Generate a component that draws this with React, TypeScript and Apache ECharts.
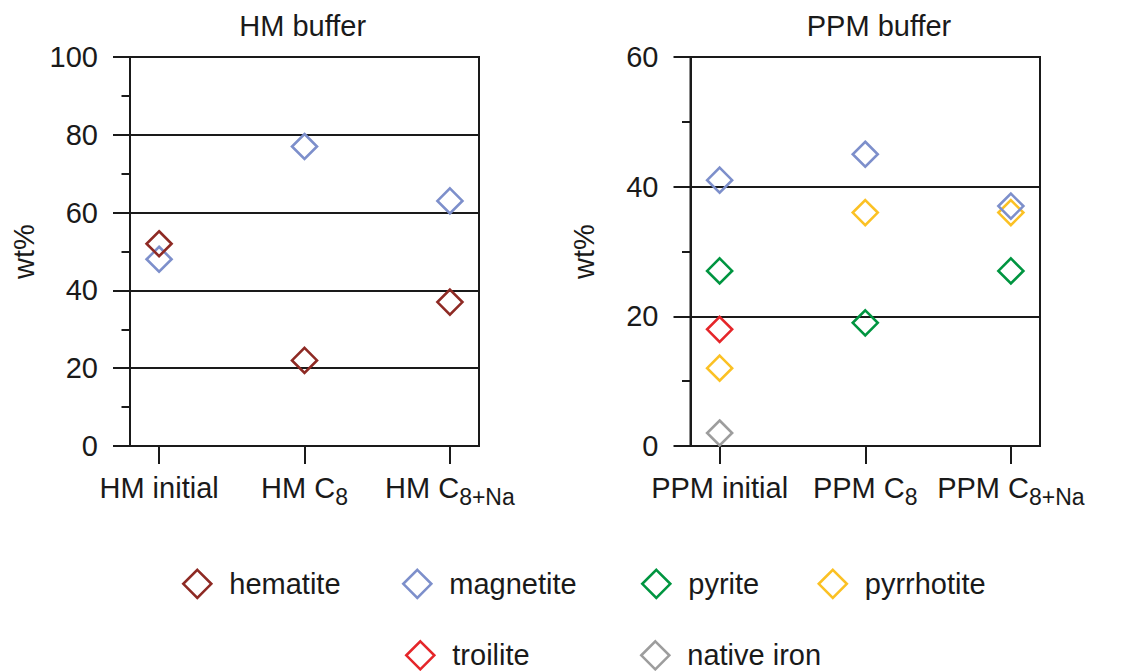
import React, { useEffect, useRef } from 'react';
import * as echarts from 'echarts';

// ---- Data ----
const hmLabelMain = ['HM initial', 'HM C', 'HM C'];
const hmLabelSub = ['', '8', '8+Na'];
const ppmLabelMain = ['PPM initial', 'PPM C', 'PPM C'];
const ppmLabelSub = ['', '8', '8+Na'];
const categoryIndex = [0, 1, 2];

const hmHematite = [52, 22, 37];
const hmMagnetite = [48, 77, 63];

const ppmMagnetite = [41, 45, 37];
const ppmPyrite = [27, 19, 27];
const ppmPyrrhotite = [12, 36, 36];
const ppmTroilite: (number | null)[] = [18, null, null];
const ppmNativeIron: (number | null)[] = [2, null, null];

const minerals = ['hematite', 'magnetite', 'pyrite', 'pyrrhotite', 'troilite', 'native iron'];
const mineralColors = ['#8E2A24', '#7D8FCB', '#009540', '#FBC124', '#E5262A', '#9D9D9D'];

const FONT = "'Liberation Sans', Arial, Helvetica, sans-serif";
const INK = '#1a1a1a';

function toPoints(values: (number | null)[]) {
  const out: number[][] = [];
  values.forEach((v, i) => {
    if (v !== null && v !== undefined) out.push([categoryIndex[i], v]);
  });
  return out;
}

function colorOf(name: string) {
  return mineralColors[minerals.indexOf(name)];
}

function makeSeries(name: string, values: (number | null)[], gridIdx: number) {
  const c = colorOf(name);
  return {
    type: 'scatter',
    name,
    xAxisIndex: gridIdx,
    yAxisIndex: gridIdx,
    symbol: 'diamond',
    symbolSize: 25,
    itemStyle: { color: 'rgba(255,255,255,0)', borderColor: c, borderWidth: 2.6, opacity: 1 },
    emphasis: { disabled: true },
    data: toPoints(values),
  };
}

function xAxisFor(gridIdx: number, mains: string[], subs: string[]) {
  return {
    gridIndex: gridIdx,
    type: 'value',
    min: -0.2,
    max: 2.2,
    axisLine: { show: true, onZero: false, lineStyle: { color: INK, width: 2 } },
    axisTick: { show: true, customValues: categoryIndex, length: 18, inside: false, lineStyle: { color: INK, width: 2 } },
    axisLabel: {
      show: true,
      customValues: categoryIndex,
      margin: 22,
      color: INK,
      fontSize: 29,
      fontFamily: FONT,
      lineHeight: 40,
      formatter: (v: number) => {
        const i = Math.round(v);
        return subs[i] ? `${mains[i]}{sub|${subs[i]}}` : mains[i];
      },
      rich: {
        sub: { fontSize: 23, fontFamily: FONT, color: INK, lineHeight: 22, padding: [18, 0, 0, 0] },
      },
    },
    splitLine: { show: false },
  };
}

function yAxisFor(gridIdx: number, max: number) {
  return {
    gridIndex: gridIdx,
    type: 'value',
    min: 0,
    max,
    interval: 20,
    name: 'wt%',
    nameLocation: 'middle',
    nameRotate: 90,
    nameGap: 92,
    nameTextStyle: { fontSize: 29, fontFamily: FONT, color: INK },
    axisLine: { show: true, onZero: false, lineStyle: { color: INK, width: 2 } },
    axisTick: { show: true, length: 17, inside: false, lineStyle: { color: INK, width: 2 } },
    minorTick: { show: true, splitNumber: 2, length: 8.5, lineStyle: { color: INK, width: 2 } },
    axisLabel: { show: true, margin: 32, fontSize: 29, fontFamily: FONT, color: INK },
    splitLine: { show: true, lineStyle: { color: INK, width: 2 } },
    minorSplitLine: { show: false },
  };
}

const legendPos: [number, number][] = [
  [182, 568.5],
  [402, 568.5],
  [641, 568.5],
  [817.5, 568.5],
  [405, 640],
  [640, 640],
];

export default function App() {
  const ref = useRef<HTMLDivElement>(null);
  useEffect(() => {
    document.body.style.margin = '0';
    const chart = echarts.init(ref.current!, null, { renderer: 'svg' });
    const option: any = {
      animation: false,
      backgroundColor: '#ffffff',
      textStyle: { fontFamily: FONT },
      grid: [
        { left: 130, top: 57, width: 349, height: 389, show: true, borderColor: INK, borderWidth: 2, backgroundColor: 'transparent' },
        { left: 690.5, top: 57, width: 349.5, height: 389, show: true, borderColor: INK, borderWidth: 2, backgroundColor: 'transparent' },
      ],
      xAxis: [xAxisFor(0, hmLabelMain, hmLabelSub), xAxisFor(1, ppmLabelMain, ppmLabelSub)],
      yAxis: [yAxisFor(0, 100), yAxisFor(1, 60)],
      legend: minerals.map((m, i) => ({
        data: [m],
        left: legendPos[i][0],
        top: legendPos[i][1],
        padding: 0,
        itemWidth: 28,
        itemHeight: 28,
        selectedMode: false,
        icon: 'diamond',
        itemStyle: { borderWidth: 2.6 },
        textStyle: { fontSize: 29, fontFamily: FONT, color: INK, padding: [0, 0, 0, 13] },
      })),
      graphic: [
        {
          type: 'text',
          x: 302.7,
          y: 26,
          style: { text: 'HM buffer', fontSize: 29, fontFamily: FONT, fill: INK, align: 'center', verticalAlign: 'middle' },
        },
        {
          type: 'text',
          x: 879,
          y: 26,
          style: { text: 'PPM buffer', fontSize: 29, fontFamily: FONT, fill: INK, align: 'center', verticalAlign: 'middle' },
        },
      ],
      series: [
        makeSeries('magnetite', hmMagnetite, 0),
        makeSeries('hematite', hmHematite, 0),
        makeSeries('native iron', ppmNativeIron, 1),
        makeSeries('troilite', ppmTroilite, 1),
        makeSeries('pyrite', ppmPyrite, 1),
        makeSeries('pyrrhotite', ppmPyrrhotite, 1),
        makeSeries('magnetite', ppmMagnetite, 1),
      ],
    };
    chart.setOption(option);
    return () => chart.dispose();
  }, []);
  return <div ref={ref} style={{ position: 'absolute', left: 0, top: 0, width: 1128, height: 671 }} />;
}
